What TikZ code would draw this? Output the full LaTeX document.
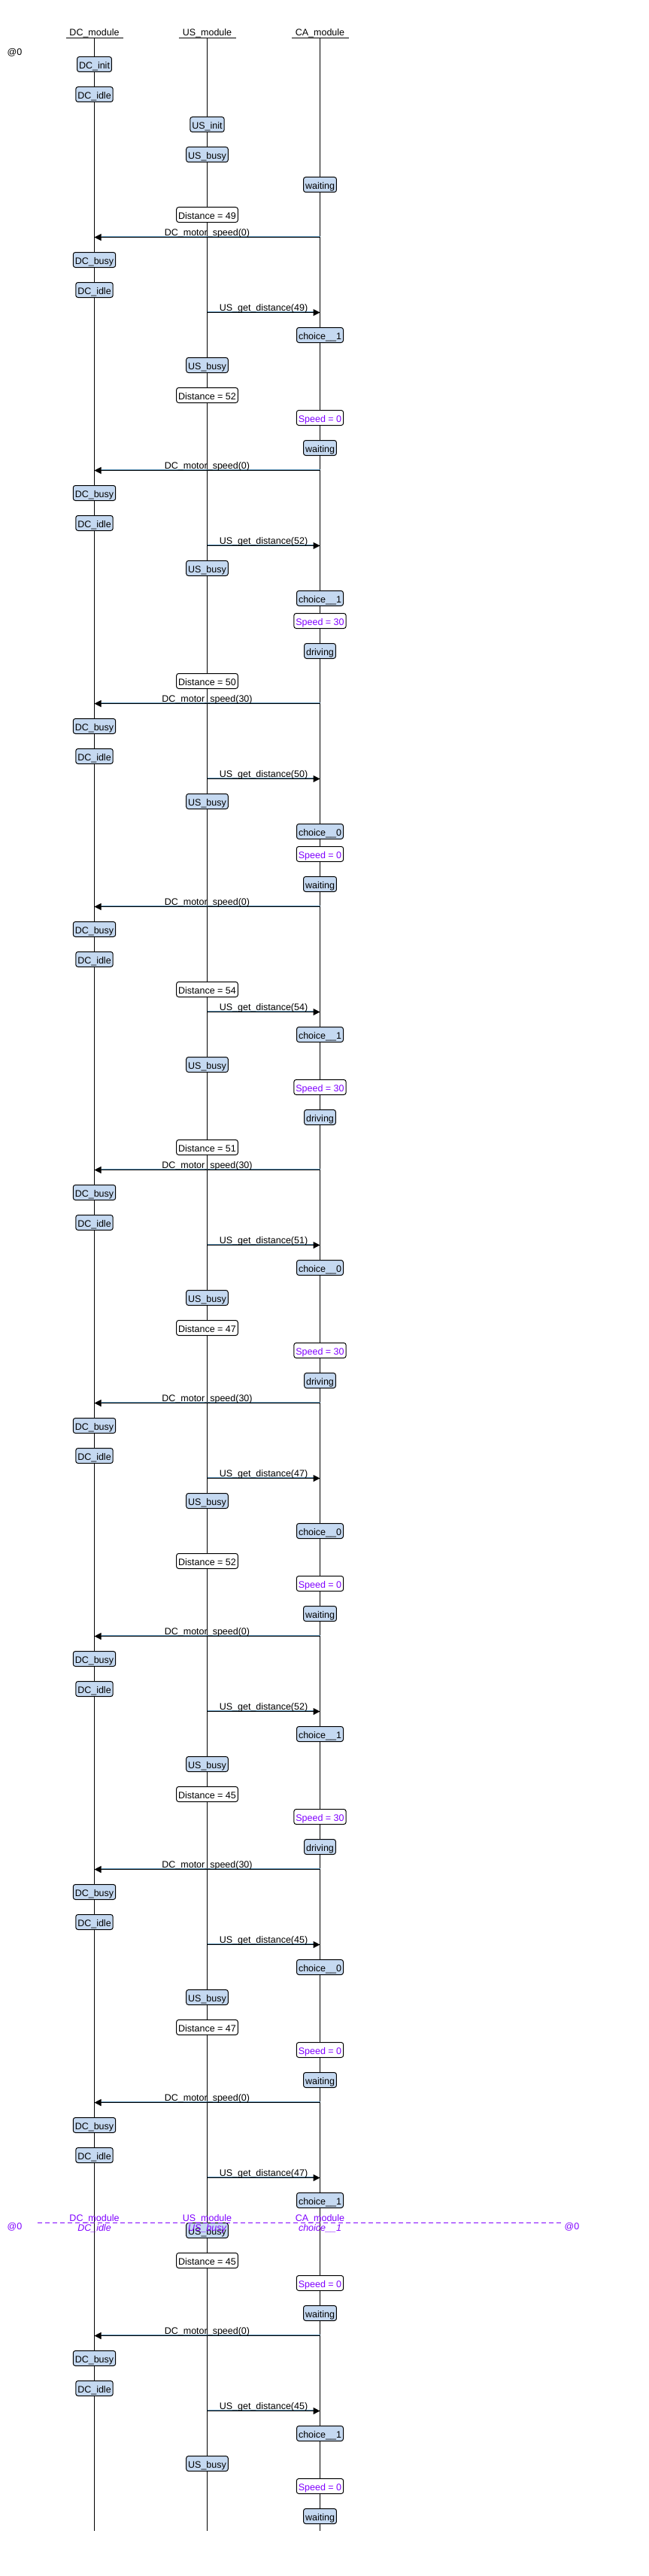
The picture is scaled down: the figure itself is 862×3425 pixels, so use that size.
\documentclass[tikz,border=0pt]{standalone}
\usepackage{fontspec}
\setmainfont{Liberation Sans}
\usetikzlibrary{arrows.meta}
\definecolor{boxblue}{RGB}{197,217,241}
\definecolor{msgblue}{RGB}{96,150,186}
\definecolor{violetc}{RGB}{128,0,255}
\tikzset{
  every node/.style={font=\fontsize{12.5}{14}\selectfont},
  statebox/.style={draw=black, line width=1pt, fill=boxblue, rounded corners=3pt,
    minimum height=20pt, inner xsep=2.5pt, inner ysep=0pt, text height=12pt, text depth=0pt},
  valbox/.style={statebox, fill=white},
  speedbox/.style={valbox, text=violetc},
  lifeline/.style={line width=1pt, black},
  msgline/.style={line width=1pt, black, -{Triangle[length=9pt,width=9pt]}},
  msgshade/.style={line width=1pt, msgblue, shorten >=9pt},
  msglabel/.style={anchor=base, inner sep=0pt},
  hdr/.style={anchor=base, inner sep=0pt},
  marklabel/.style={anchor=base, inner sep=0pt, text=violetc},
  marklabelit/.style={marklabel, font=\fontsize{12.5}{14}\selectfont\itshape},
  cutline/.style={violetc, line width=1pt, dash pattern=on 6pt off 4pt},
}
\begin{document}
\begin{tikzpicture}[x=1pt,y=-1pt]
\fill[white] (0,0) rectangle (862,3425);
\useasboundingbox (0,0) rectangle (862,3425);

% headers and lifelines
\foreach \n/\x/\t in {dc/125.5/DC\_module, us/275.5/US\_module, ca/425.5/CA\_module} {
  \node[hdr] (h\n) at (\x,48) {\t};
  \coordinate (ul\n a) at (\x-38,50.5);
  \coordinate (ul\n b) at (\x+38,50.5);
  \coordinate (top\n) at (\x,50.5);
  \coordinate (bot\n) at (\x,3365);
  \draw[lifeline] (ul\n a) -- (ul\n b);
  \draw[lifeline] (top\n) -- (bot\n);
}
\node[hdr] (at0) at (19.5,74) {@0};

% messages DC_motor_speed (CA -> DC)
\foreach \y/\v [count=\i] in {315/0, 625/0, 935/30, 1205/0, 1555/30, 1865/30, 2175/0, 2485/30, 2795/0, 3105/0} {
  \coordinate (dmS\i) at (425.5,\y+0.5);
  \coordinate (dmE\i) at (125.5,\y+0.5);
  \draw[msgshade] ([yshift=1pt]dmS\i) -- ([yshift=1pt]dmE\i);
  \draw[msgline] (dmS\i) -- (dmE\i);
  \node[msglabel] (dmL\i) at (275.5,\y-2) {DC\_motor\_speed(\v)};
}
% messages US_get_distance (US -> CA)
\foreach \y/\v [count=\i] in {415/49, 725/52, 1035/50, 1345/54, 1655/51, 1965/47, 2275/52, 2585/45, 2895/47, 3205/45} {
  \coordinate (ugS\i) at (275.5,\y+0.5);
  \coordinate (ugE\i) at (425.5,\y+0.5);
  \draw[msgshade] ([yshift=1pt]ugS\i) -- ([yshift=1pt]ugE\i);
  \draw[msgline] (ugS\i) -- (ugE\i);
  \node[msglabel] (ugL\i) at (350.5,\y-2) {US\_get\_distance(\v)};
}

% DC states
\foreach \t/\y [count=\i] in {DC\_init/85.5, DC\_idle/125.5, DC\_busy/345.5, DC\_idle/385.5, DC\_busy/655.5, DC\_idle/695.5, DC\_busy/965.5, DC\_idle/1005.5, DC\_busy/1235.5, DC\_idle/1275.5, DC\_busy/1585.5, DC\_idle/1625.5, DC\_busy/1895.5, DC\_idle/1935.5, DC\_busy/2205.5, DC\_idle/2245.5, DC\_busy/2515.5, DC\_idle/2555.5, DC\_busy/2825.5, DC\_idle/2865.5, DC\_busy/3135.5, DC\_idle/3175.5}
  \node[statebox] (dcS\i) at (125.5,\y) {\t};

% US states
\foreach \t/\y [count=\i] in {US\_init/165.5, US\_busy/205.5, US\_busy/485.5, US\_busy/755.5, US\_busy/1065.5, US\_busy/1415.5, US\_busy/1725.5, US\_busy/1995.5, US\_busy/2345.5, US\_busy/2655.5, US\_busy/2965.5, US\_busy/3275.5}
  \node[statebox] (usS\i) at (275.5,\y) {\t};

% US values
\foreach \v/\y [count=\i] in {49/285.5, 52/525.5, 50/905.5, 54/1315.5, 51/1525.5, 47/1765.5, 52/2075.5, 45/2385.5, 47/2695.5, 45/3005.5}
  \node[valbox] (usV\i) at (275.5,\y) {Distance = \v};

% CA states
\foreach \t/\y [count=\i] in {waiting/245.5, choice\_\_1/445.5, waiting/595.5, choice\_\_1/795.5, driving/865.5, choice\_\_0/1105.5, waiting/1175.5, choice\_\_1/1375.5, driving/1485.5, choice\_\_0/1685.5, driving/1835.5, choice\_\_0/2035.5, waiting/2145.5, choice\_\_1/2305.5, driving/2455.5, choice\_\_0/2615.5, waiting/2765.5, choice\_\_1/2925.5, waiting/3075.5, choice\_\_1/3235.5, waiting/3345.5}
  \node[statebox] (caS\i) at (425.5,\y) {\t};

% CA speeds
\foreach \v/\y [count=\i] in {0/555.5, 30/825.5, 0/1135.5, 30/1445.5, 30/1795.5, 0/2105.5, 30/2415.5, 0/2725.5, 0/3035.5, 0/3305.5}
  \node[speedbox] (caV\i) at (425.5,\y) {Speed = \v};

% cut marker
\coordinate (cutL) at (49.5,2955.5);
\coordinate (cutR) at (745.5,2955.5);
\draw[cutline] (cutL) -- (cutR);
\node[marklabel] (cutat1) at (19.5,2964) {@0};
\node[marklabel] (cutat2) at (760.5,2964) {@0};
\node[marklabel] (cutdc) at (125.5,2953) {DC\_module};
\node[marklabel] (cutus) at (275.5,2953) {US\_module};
\node[marklabel] (cutca) at (425.5,2953) {CA\_module};
\node[marklabelit] (cutdcs) at (125.5,2966.5) {DC\_idle};
\node[marklabelit] (cutuss) at (275.5,2966.5) {US\_busy};
\node[marklabelit] (cutcas) at (425.5,2966.5) {choice\_\_1};
\end{tikzpicture}
\end{document}
